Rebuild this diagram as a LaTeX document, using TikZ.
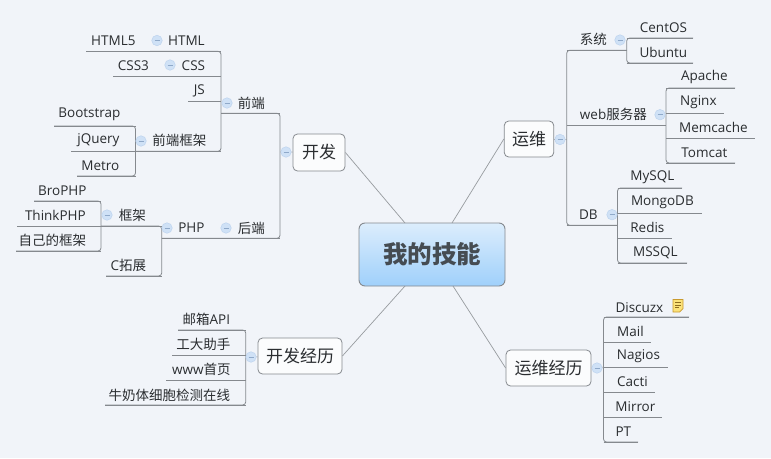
\documentclass[tikz,border=0pt]{standalone}
\usepackage{fontspec}
\setmainfont{Open Sans}
\newfontfamily\cjk{Noto Sans CJK SC}
\definecolor{bgc}{HTML}{F1F4F9}
\definecolor{linkc}{HTML}{85898E}
\definecolor{txtc}{HTML}{2A2D30}
\definecolor{minusf}{HTML}{CFE1F6}
\definecolor{minusd}{HTML}{BDD3EE}
\definecolor{minusl}{HTML}{8FA9C9}
\definecolor{roottop}{HTML}{DCEDFC}
\definecolor{rootbot}{HTML}{9FD0FB}
\definecolor{roottxt}{HTML}{454C52}
\definecolor{notef}{HTML}{FBE27A}
\definecolor{noted}{HTML}{C99A2E}
\tikzset{
  link/.style={draw=linkc,line width=0.8pt},
  trunk/.style={link,rounded corners=3pt},
  spoke/.style={draw=linkc!85,line width=0.7pt},
  label/.style={inner sep=0pt,xshift=-0.6pt,yshift=-0.8pt,text=txtc,font=\fontsize{13.5}{15}\selectfont},
  topic/.style={draw=linkc,line width=0.8pt,fill=white!70!bgc,rounded corners=4.5pt,inner sep=0pt,text=txtc,font=\cjk\fontsize{17}{20}\selectfont},
  roottopic/.style={draw=linkc,line width=0.9pt,rounded corners=6pt,top color=roottop,bottom color=rootbot,inner sep=0pt,text=roottxt,font=\cjk\bfseries\fontsize{24.5}{28}\selectfont},
  minus/.style={circle,inner sep=0pt,minimum size=10.5pt,fill=minusf,draw=minusd,line width=0.5pt,
    path picture={\draw[draw=minusl,line width=0.6pt] ([xshift=-2.5pt]path picture bounding box.center) -- ([xshift=2.5pt]path picture bounding box.center);}}
}
% \tp{name}{text x}{text y}{text}{line start x}{line y}{line end x}
\newcommand\tp[7]{%
  \node[label] (#1) at (#2,#3) {#4};
  \coordinate (#1-a) at (#5,#6);
  \coordinate (#1-b) at (#7,#6);
  \draw[link] (#1-a) -- (#1-b);
}
\newcommand\mn[3]{\node[minus] (#1) at (#2,#3) {};}
\begin{document}
\begin{tikzpicture}[x=1pt,y=-1pt]
\fill[bgc] (0,0) rectangle (771,458);
\useasboundingbox (0,0) rectangle (771,458);
% central and main topics
\node[roottopic,minimum width=146pt,minimum height=63pt] (root) at (432,254.5) {我的技能};
\node[topic,minimum width=52pt,minimum height=37pt] (kf) at (319,152.5) {开发};
\node[topic,minimum width=49.5pt,minimum height=36pt] (yw) at (529,139) {运维};
\node[topic,minimum width=84pt,minimum height=36pt] (kfjl) at (300,356) {开发经历};
\node[topic,minimum width=85pt,minimum height=36pt] (ywjl) at (548.5,368) {运维经历};
\coordinate (r1) at (405,223); \coordinate (r2) at (452,223);
\coordinate (r3) at (405,286); \coordinate (r4) at (453,286);
\draw[spoke] (r1) -- (kf.east);
\draw[spoke] (r2) -- (yw.west);
\draw[spoke] (r3) -- (kfjl.east);
\draw[spoke] (r4) -- (ywjl.west);

% ---------- left upper: development
\tp{html5}{114}{40}{HTML5}{86}{51.3}{150}
\tp{html}{187}{40}{HTML}{150}{51.3}{221}
\tp{css3}{134}{65}{CSS3}{113}{76.3}{165}
\tp{css}{194}{65}{CSS}{165}{76.3}{221}
\tp{js}{200}{90}{JS}{188}{101}{221}
\tp{fe}{252}{103}{\cjk 前端}{221}{113.3}{280}
\tp{bs}{90}{114}{Bootstrap}{54}{126}{135.5}
\tp{jq}{99}{139}{jQuery}{71}{151.3}{135.5}
\tp{metro}{101}{165}{Metro}{77}{176}{135.5}
\tp{fw}{180}{140}{\cjk 前端框架}{135.5}{151.3}{221}
\tp{be}{252}{228}{\cjk 后端}{161.7}{238.3}{280}
\tp{php}{192}{227}{PHP}{161.7}{238.3}{161.7}
\tp{bro}{63}{190}{BroPHP}{34}{201}{101}
\tp{think}{56}{215}{ThinkPHP}{17}{226}{101}
\tp{own}{53}{240}{\cjk 自己的框架}{16}{251}{101}
\tp{kj}{133}{215}{\cjk 框架}{101}{226}{161.7}
\tp{cext}{129}{265}{C{\cjk 拓展}}{106}{276}{161.7}
\draw[trunk] (html-a) -- (html-b) -- (fw-b) -- (fw-a);
\draw[trunk] (css-a) -- (css-b);
\draw[trunk] (fe-a) -- (fe-b) -- (be-b) -- (be-a);
\draw[trunk] (bs-a) -- (bs-b) -- (metro-b) -- (metro-a);
\draw[trunk] (bro-a) -- (bro-b) -- (own-b) -- (own-a);
\draw[trunk] (kj-a) -- (kj-b) -- (cext-b) -- (cext-a);
\mn{mhtml}{157}{40.5}
\mn{mcss}{170}{65}
\mn{mfe}{227}{103}
\mn{mfw}{141}{141}
\mn{mkj}{107}{215}
\mn{mphp}{167}{228}
\mn{mbe}{226}{228}
\mn{mkf}{286}{152}
\coordinate (kft) at (280,152);
\draw[spoke] (kft) -- (mkf) -- (kf);

% ---------- right upper: operations
\tp{sys}{594}{39}{\cjk 系统}{566.7}{50.3}{626.7}
\tp{centos}{664}{27}{CentOS}{626.7}{38}{693}
\tp{ubuntu}{664}{52}{Ubuntu}{626.7}{63}{693}
\tp{web}{614}{114}{web{\cjk 服务器}}{566.7}{125.7}{666}
\tp{apache}{705}{76}{Apache}{666}{88}{735}
\tp{nginx}{699}{101}{Nginx}{666}{113.7}{724}
\tp{memc}{714}{127}{Memcache}{666}{138.3}{755}
\tp{tomcat}{705}{152}{Tomcat}{666}{163}{735}
\tp{db}{589}{214}{DB}{566.7}{225.3}{617.5}
\tp{mysql}{653}{176}{MySQL}{617.5}{188}{682}
\tp{mongo}{663}{201}{MongoDB}{617.5}{213}{702}
\tp{redis}{648}{227}{Redis}{617.5}{238}{672}
\tp{mssql}{656}{252}{MSSQL}{617.5}{263}{687}
\draw[trunk] (sys-b) -- (sys-a) -- (db-a) -- (db-b);
\draw[trunk] (centos-b) -- (centos-a) -- (ubuntu-a) -- (ubuntu-b);
\draw[trunk] (apache-b) -- (apache-a) -- (tomcat-a) -- (tomcat-b);
\draw[trunk] (mysql-b) -- (mysql-a) -- (mssql-a) -- (mssql-b);
\mn{msys}{620}{40}
\mn{mweb}{660}{114.7}
\mn{mdb}{612}{214.7}
\mn{myw}{560}{139.5}
\coordinate (ywt) at (566.7,139.5);
\draw[spoke] (yw) -- (myw) -- (ywt);

% ---------- left lower: development history
\tp{mail}{207}{319}{{\cjk 邮箱}API}{178}{330}{245.7}
\tp{gd}{204}{344}{\cjk 工大助手}{172}{355}{245.7}
\tp{www}{202}{369}{www{\cjk 首页}}{166}{380}{245.7}
\tp{milk}{170}{395}{\cjk 牛奶体细胞检测在线}{105}{405}{245.7}
\draw[trunk] (mail-a) -- (mail-b) -- (milk-b) -- (milk-a);
\mn{mkfjl}{251}{357}
\draw[spoke] (kfjl) -- (mkfjl) -- (gd-b);

% ---------- right lower: operations history
\tp{discuz}{640}{307}{Discuzx}{603.5}{317}{689}
\tp{mailb}{631}{331}{Mail}{603.5}{342.3}{651}
\tp{nagios}{639}{355}{Nagios}{603.5}{367}{668}
\tp{cacti}{633}{381}{Cacti}{603.5}{392}{655}
\tp{mirror}{636}{406}{Mirror}{603.5}{417}{662}
\tp{pt}{624}{431}{PT}{603.5}{442}{638}
\draw[trunk] (discuz-b) -- (discuz-a) -- (pt-a) -- (pt-b);
\mn{mywjl}{597}{368}
\draw[spoke] (ywjl) -- (mywjl) -- (nagios-a);

% note icon beside Discuzx
\fill[notef,draw=noted,line width=0.7pt] (673,299.5) -- (683,299.5) -- (683,308.5) -- (679.5,312) -- (673,312) -- cycle;
\draw[noted!70!black,line width=0.5pt] (675,302.5) -- (681,302.5) (675,305) -- (681,305) (675,307.5) -- (679,307.5);
\end{tikzpicture}
\end{document}
